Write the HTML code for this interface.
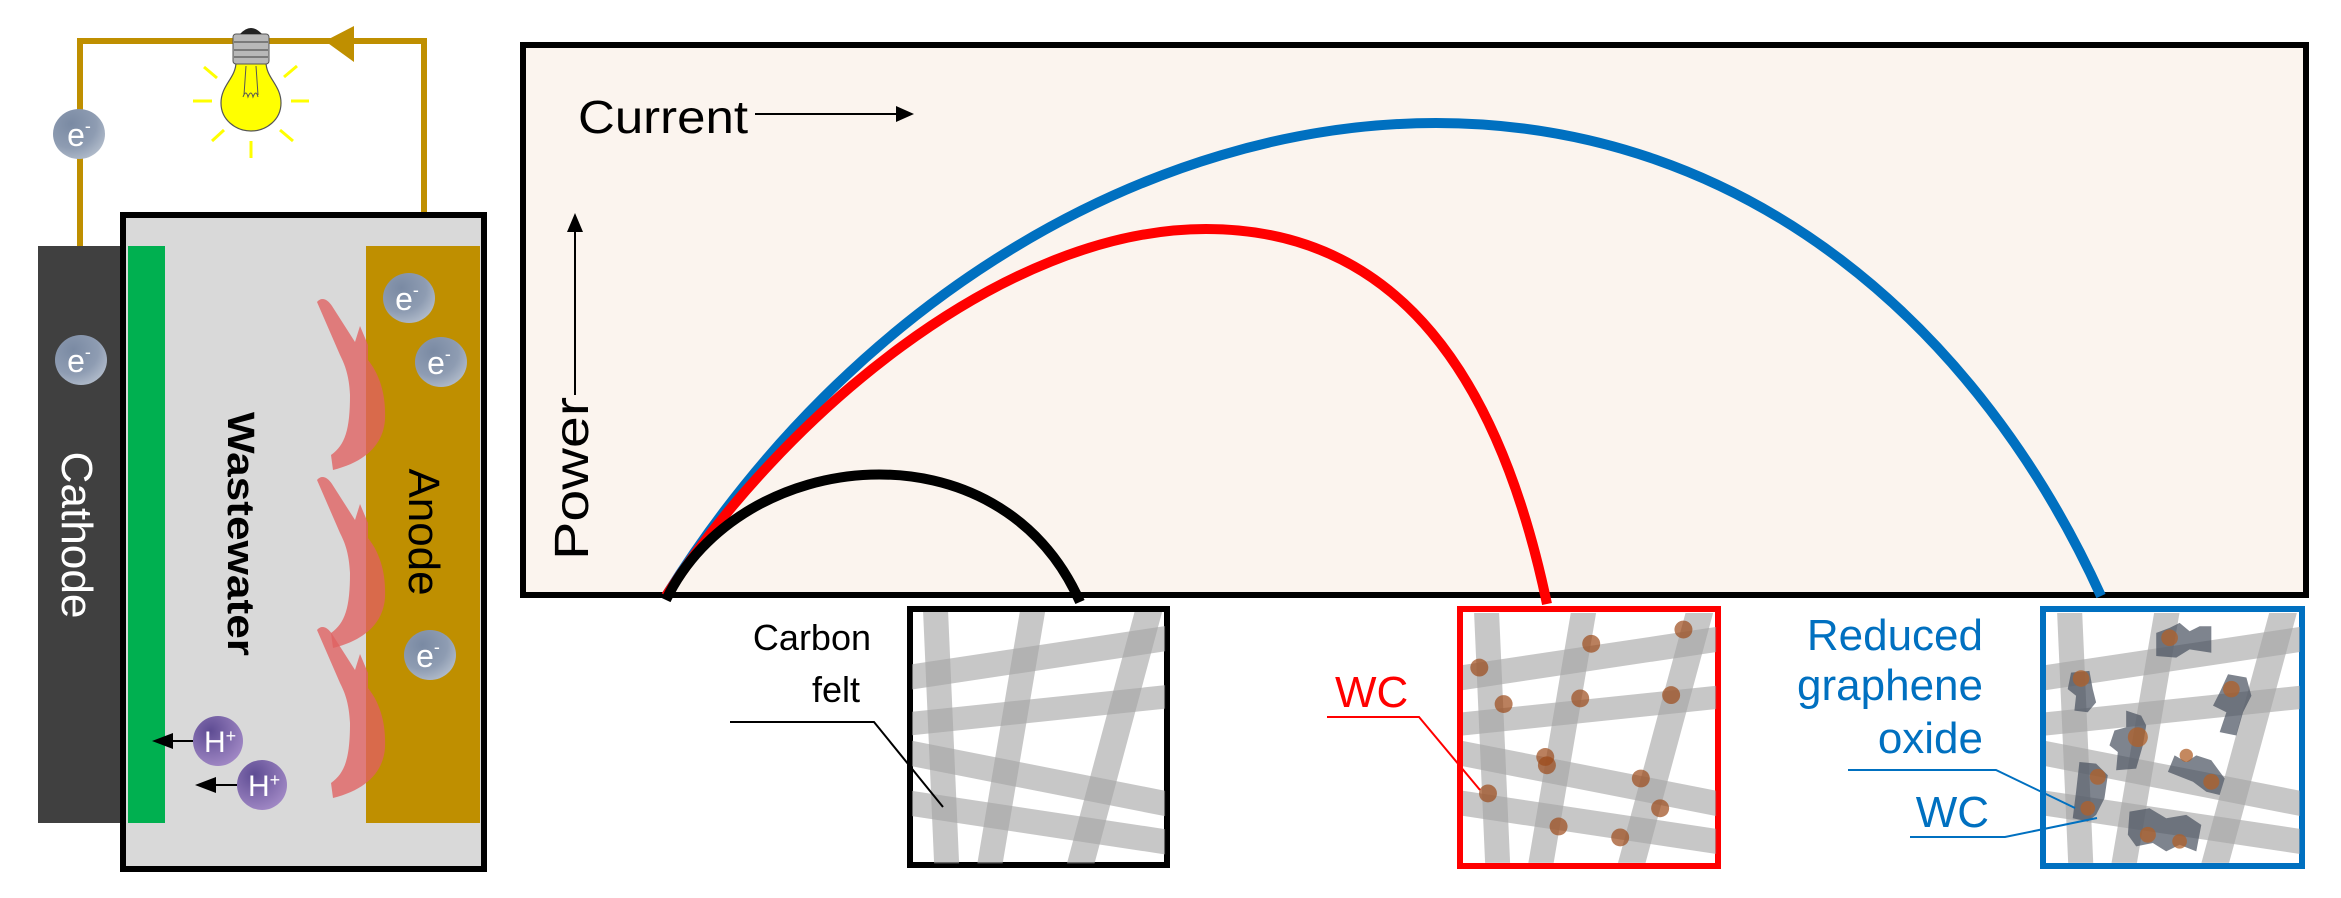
<!DOCTYPE html>
<html><head><meta charset="utf-8"><style>
html,body{margin:0;padding:0;background:#fff;}
svg{display:block;}
text{font-family:"Liberation Sans",Arial,sans-serif;}
</style></head><body>
<svg width="2341" height="898" viewBox="0 0 2341 898" xmlns="http://www.w3.org/2000/svg">
<defs>
<radialGradient id="eg" cx="0.35" cy="0.3" r="0.8">
<stop offset="0" stop-color="#7A8AA3"/><stop offset="0.6" stop-color="#8E9CB2"/><stop offset="1" stop-color="#B6C0CE"/>
</radialGradient>
<radialGradient id="hg" cx="0.35" cy="0.3" r="0.8">
<stop offset="0" stop-color="#5E4C93"/><stop offset="1" stop-color="#A58CC8"/>
</radialGradient>
<g id="fib" fill="none" stroke="#A4A4A4" stroke-opacity="0.62">
<line x1="70" y1="-20" x2="105" y2="780" stroke-width="75"/>
<line x1="365" y1="-20" x2="230" y2="780" stroke-width="75"/>
<line x1="715" y1="-20" x2="500" y2="780" stroke-width="80"/>
<line x1="-20" y1="198" x2="780" y2="77" stroke-width="75"/>
<line x1="-20" y1="337" x2="780" y2="253" stroke-width="70"/>
<line x1="-20" y1="421" x2="780" y2="579" stroke-width="75"/>
<line x1="-20" y1="572" x2="780" y2="693" stroke-width="75"/>
</g>
<clipPath id="cp"><rect x="0" y="0" width="760" height="755"/></clipPath>
<path id="bac" d="M317,302 C322,296 328,300 332,306 L355,342 L360,326 L368,345 L368,360 C380,375 386,395 385,420 C383,445 365,462 333,470 L331,455 C345,445 350,430 350,395 C349,375 345,365 340,355 Z"/>
</defs>

<!-- wires -->
<path d="M80,246 V41 H424 V246" fill="none" stroke="#BF8F00" stroke-width="6"/>
<polygon points="325,41 354,26 354,62" fill="#BF8F00"/>
<!-- bulb -->
<g stroke="#FFFF00" stroke-width="3">
<line x1="193" y1="101" x2="212" y2="101"/><line x1="291" y1="101" x2="309" y2="101"/>
<line x1="251" y1="141" x2="251" y2="158"/><line x1="204" y1="67" x2="217" y2="78"/>
<line x1="284" y1="77" x2="297" y2="66"/><line x1="212" y1="141" x2="224" y2="130"/>
<line x1="280" y1="130" x2="293" y2="141"/>
</g>
<path d="M236,62 C236,78 221,85 221,103 C221,120 236,131 251,131 C266,131 281,120 281,103 C281,85 266,78 266,62 Z" fill="#FFFF00" stroke="#555" stroke-width="1.2"/>
<path d="M246,66 L244,95 M256,66 L258,95 M243,97 q3,-8 5,0 q3,-8 5,0 q3,-8 5,0" fill="none" stroke="#555" stroke-width="1"/>
<rect x="233" y="34" width="36" height="30" rx="3" fill="#B8B8B8" stroke="#555" stroke-width="1"/>
<path d="M234,42 H268 M234,50 H268 M234,57 H268" stroke="#666" stroke-width="1.5"/>
<path d="M240,34 Q251,22 262,34 Z" fill="#222"/>
<ellipse cx="79" cy="134" rx="26" ry="25" fill="url(#eg)"/>
<text x="79" y="146" font-size="32" fill="#fff" text-anchor="middle">e<tspan font-size="18" dy="-14">-</tspan></text>

<!-- cell -->
<rect x="123" y="215" width="361" height="654" fill="#D9D9D9" stroke="#000" stroke-width="6"/>
<rect x="38" y="246" width="82" height="577" fill="#404040"/>
<rect x="128" y="246" width="37" height="577" fill="#00B050"/>
<rect x="366" y="246" width="114" height="577" fill="#BF8F00"/>
<g fill="#E06060" fill-opacity="0.78">
<use href="#bac"/><use href="#bac" y="178"/><use href="#bac" y="328"/>
</g>
<text transform="translate(62,535) rotate(90)" font-size="44" fill="#fff" text-anchor="middle" textLength="167" lengthAdjust="spacingAndGlyphs">Cathode</text>
<text transform="translate(228,534) rotate(90)" font-size="38" font-weight="bold" fill="#000" text-anchor="middle" textLength="244" lengthAdjust="spacingAndGlyphs">Wastewater</text>
<text transform="translate(409,532) rotate(90)" font-size="44" fill="#000" text-anchor="middle" textLength="127" lengthAdjust="spacingAndGlyphs">Anode</text>
<g font-size="32" fill="#fff" text-anchor="middle">
<ellipse cx="409" cy="298" rx="26" ry="25" fill="url(#eg)"/><text x="407" y="310">e<tspan font-size="18" dy="-14">-</tspan></text>
<ellipse cx="441" cy="362" rx="26" ry="25" fill="url(#eg)"/><text x="439" y="374">e<tspan font-size="18" dy="-14">-</tspan></text>
<ellipse cx="81" cy="360" rx="26" ry="25" fill="url(#eg)"/><text x="79" y="372">e<tspan font-size="18" dy="-14">-</tspan></text>
<ellipse cx="430" cy="655" rx="26" ry="25" fill="url(#eg)"/><text x="428" y="667">e<tspan font-size="18" dy="-14">-</tspan></text>
</g>
<g font-size="30" fill="#fff">
<line x1="193" y1="741" x2="165" y2="741" stroke="#000" stroke-width="2"/><polygon points="152,741 173,733 173,749" fill="#000"/>
<ellipse cx="218" cy="741" rx="25" ry="25" fill="url(#hg)"/><text x="204" y="752">H<tspan font-size="18" dy="-10">+</tspan></text>
<line x1="237" y1="785" x2="208" y2="785" stroke="#000" stroke-width="2"/><polygon points="195,785 216,777 216,793" fill="#000"/>
<ellipse cx="262" cy="785" rx="25" ry="25" fill="url(#hg)"/><text x="248" y="796">H<tspan font-size="18" dy="-10">+</tspan></text>
</g>

<!-- chart -->
<rect x="523" y="45" width="1783" height="550" fill="#FBF4EE" stroke="#000" stroke-width="6"/>
<text x="578" y="133" font-size="46" fill="#000" textLength="170" lengthAdjust="spacingAndGlyphs">Current</text>
<line x1="755" y1="114" x2="900" y2="114" stroke="#000" stroke-width="2"/><polygon points="914,114 896,106 896,122" fill="#000"/>
<text transform="translate(588,560) rotate(-90)" font-size="48" fill="#000" textLength="163" lengthAdjust="spacingAndGlyphs">Power</text>
<line x1="575" y1="395" x2="575" y2="228" stroke="#000" stroke-width="2"/><polygon points="575,213 567,232 583,232" fill="#000"/>
<g fill="none" stroke-width="10">
<path d="M666,596 C850,300 1150,123 1436,123 C1750,123 1980,330 2101,596" stroke="#0070C0"/>
<path d="M666,596 C780,420 1000,229 1206,229 C1400,229 1500,380 1547,604" stroke="#FF0000"/>
<path d="M666,600 C730,470 800,491 888,491 C980,491 1050,540 1080,602" stroke="#000" stroke-width="0"/>
<path d="M666,600 C740,445 1000,420 1080,602" stroke="#000"/>
</g>

<!-- black box -->
<rect x="910" y="609" width="257" height="256" fill="#fff" stroke="#000" stroke-width="6"/>
<g transform="translate(912,612) scale(0.333,0.333)"><g clip-path="url(#cp)"><use href="#fib"/></g></g>
<text font-size="36" fill="#000" text-anchor="end"><tspan x="871" y="650">Carbon</tspan><tspan x="860" y="702">felt</tspan></text>
<polyline points="730,722 874,722 943,807" fill="none" stroke="#000" stroke-width="2"/>

<!-- red box -->
<rect x="1460" y="609" width="258" height="257" fill="#fff" stroke="#FF0000" stroke-width="6"/>
<g transform="translate(1463,613) scale(0.333,0.331)"><g clip-path="url(#cp)"><use href="#fib"/>
<g fill="#9C4A1A" fill-opacity="0.7">
<circle cx="49" cy="165" r="27"/><circle cx="385" cy="93" r="27"/><circle cx="662" cy="50" r="27"/>
<circle cx="122" cy="275" r="27"/><circle cx="352" cy="258" r="27"/><circle cx="625" cy="248" r="27"/>
<circle cx="247" cy="435" r="27"/><circle cx="252" cy="460" r="27"/><circle cx="534" cy="500" r="27"/>
<circle cx="75" cy="545" r="27"/><circle cx="592" cy="590" r="27"/><circle cx="287" cy="645" r="27"/>
<circle cx="472" cy="678" r="27"/>
</g></g></g>
<text x="1335" y="707" font-size="44" fill="#FF0000">WC</text>
<polyline points="1327,717 1419,717 1480,790" fill="none" stroke="#FF0000" stroke-width="2"/>

<!-- blue box -->
<rect x="2043" y="609" width="259" height="257" fill="#fff" stroke="#0070C0" stroke-width="6"/>
<g transform="translate(2046,613) scale(0.334,0.331)"><g clip-path="url(#cp)"><use href="#fib"/>
<g fill="#47505E" fill-opacity="0.7">
<polygon points="330,60 370,45 400,30 430,55 460,40 495,40 495,120 430,110 390,135 330,130"/>
<polygon points="75,180 130,175 140,230 150,270 125,300 85,295 90,250 65,230"/>
<polygon points="545,185 600,195 615,250 590,300 570,370 520,360 540,300 500,280 520,240"/>
<polygon points="240,295 285,310 300,340 290,400 270,470 210,475 215,420 190,400 205,355 240,345"/>
<polygon points="385,430 420,450 450,430 495,445 535,500 520,550 480,540 440,510 365,480"/>
<polygon points="100,450 150,455 185,490 175,560 150,610 125,630 80,620 90,540"/>
<polygon points="250,600 310,590 360,620 420,610 465,640 450,720 400,700 360,720 320,695 270,705 245,670"/>
</g>
<g fill="#B0602A" fill-opacity="0.75">
<circle cx="370" cy="75" r="25"/><circle cx="105" cy="198" r="25"/><circle cx="555" cy="230" r="25"/>
<circle cx="275" cy="375" r="30"/><circle cx="420" cy="430" r="20"/><circle cx="495" cy="510" r="24"/>
<circle cx="155" cy="495" r="24"/><circle cx="125" cy="590" r="22"/><circle cx="305" cy="670" r="24"/><circle cx="400" cy="690" r="22"/>
</g></g></g>
<g font-size="44" fill="#0070C0" text-anchor="end">
<text x="1983" y="650">Reduced</text><text x="1983" y="700">graphene</text><text x="1983" y="753">oxide</text>
<text x="1989" y="827">WC</text>
</g>
<polyline points="1848,770 1996,770 2075,808" fill="none" stroke="#0070C0" stroke-width="2"/>
<polyline points="1910,837 2005,837 2097,818" fill="none" stroke="#0070C0" stroke-width="2"/>
</svg>
</body></html>
